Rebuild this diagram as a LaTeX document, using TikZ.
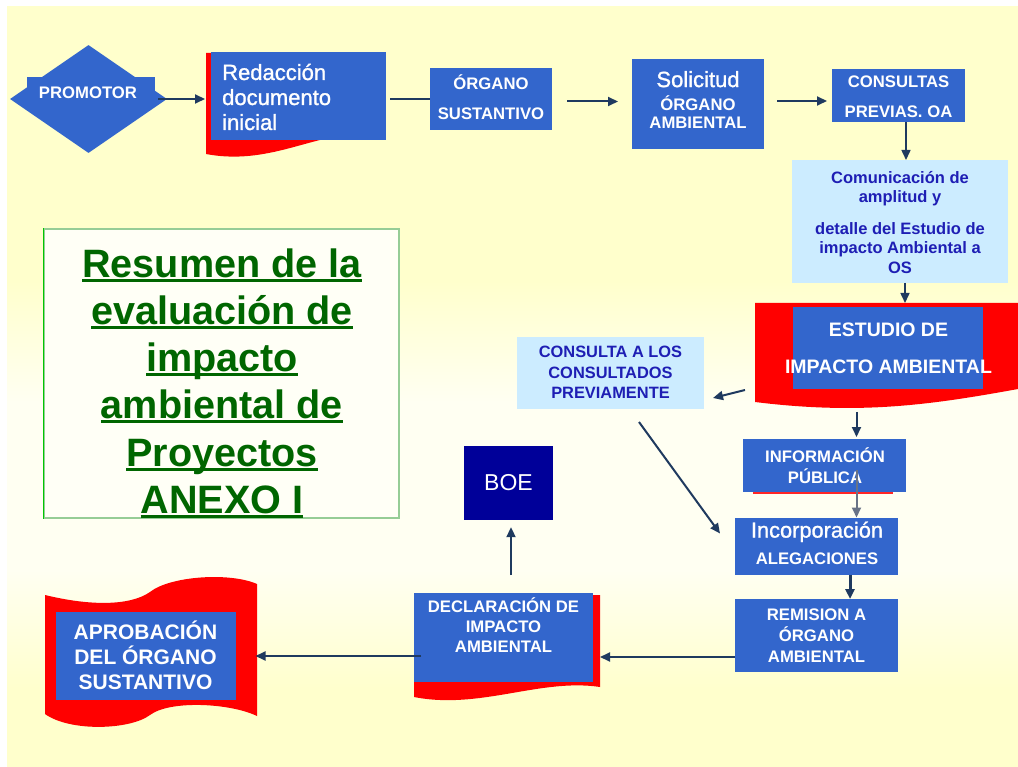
\documentclass[tikz,border=0pt]{standalone}
\usepackage{fontspec}
\setmainfont{Liberation Sans}
\newfontface\semib{Liberation Sans}[FakeBold=1.2]
\usetikzlibrary{arrows.meta,shapes.geometric,calc}
\definecolor{bgy}{RGB}{255,255,204}
\definecolor{bgw}{RGB}{255,255,242}
\definecolor{boxblue}{RGB}{51,102,204}
\definecolor{lightbox}{RGB}{204,236,255}
\definecolor{lighttext}{RGB}{30,30,180}
\definecolor{arrowc}{RGB}{31,58,95}
\definecolor{arrowg}{RGB}{105,115,135}
\definecolor{boeblue}{RGB}{0,0,153}
\definecolor{titlegreen}{RGB}{0,102,0}
\definecolor{framegreen}{RGB}{150,205,150}
\definecolor{framegreenL}{RGB}{0,200,0}
\definecolor{titlefill}{RGB}{255,255,246}
\newcommand\grnul[1]{\setbox0\hbox{#1}\rlap{\rule[-4.5pt]{\wd0}{3pt}}\box0}
\pgfdeclareverticalshading{bgshade}{100bp}{color(0bp)=(bgy); color(30bp)=(bgy); color(38bp)=(bgw); color(49bp)=(bgw); color(57bp)=(bgy); color(100bp)=(bgy)}
\begin{document}
\begin{tikzpicture}[x=1pt,y=-1pt,
  box/.style={fill=boxblue, inner sep=0pt, outer sep=0pt},
  lbox/.style={fill=lightbox, inner sep=0pt, outer sep=0pt},
  wtxt/.style={text=white, align=center, inner sep=0pt, font=\bfseries\fontsize{16.7}{21}\selectfont},
  btxt/.style={text=lighttext, align=center, inner sep=0pt, font=\bfseries\fontsize{16.5}{20.5}\selectfont},
  arr/.style={draw=arrowc, line width=2pt, -{Triangle[length=10pt,width=9pt]}},
  conn/.style={draw=arrowc, line width=2pt},
]
\useasboundingbox (0,0) rectangle (1018,767);
\shade[shading=bgshade] (7,7) rectangle (1018,767);

% title
\node[draw=framegreen, fill=titlefill, line width=1.2pt, minimum width=355pt, minimum height=289pt, inner sep=0pt] (title) at (221.5,373.5) {};
\draw[framegreenL, line width=1.2pt] (title.north west) -- (title.south west);
\node[text=titlegreen, align=center, inner sep=0pt, font=\bfseries\fontsize{39.6}{47.2}\selectfont] (titleT) at (222,383.3) {\grnul{Resumen de la}\\\grnul{evaluación de}\\\grnul{impacto}\\\grnul{ambiental de}\\\grnul{Proyectos}\\\grnul{ANEXO I}};

% promotor
\node[diamond, aspect=1.45, fill=boxblue, inner sep=0pt, minimum width=157pt, minimum height=108pt] (promo) at (88.5,99) {};
\fill[boxblue] (27,77) rectangle (155,106);
\node[wtxt] (promoT) at (88,93) {PROMOTOR};

% redaccion
\fill[red] (206,53) -- (381,53) -- (381,140) .. controls (330,120) and (280,168) .. (206,154) -- cycle;
\node[box, minimum width=175pt, minimum height=88pt] (redac) at (298.5,96) {};
\node[text=white, align=left, anchor=west, inner sep=0pt, font=\semib\fontsize{22}{25}\selectfont] (redacT) at (222,97) {Redacción\\documento\\inicial};

% organo sustantivo
\node[box, minimum width=122pt, minimum height=62pt] (organo) at (491,99) {};
\node[wtxt, font=\bfseries\fontsize{16.7}{29.5}\selectfont] (organoT) at (491,97) {ÓRGANO\\SUSTANTIVO};

% solicitud
\node[box, minimum width=132pt, minimum height=90pt] (solic) at (698,104) {};
\node[wtxt, font=\bfseries\fontsize{16.7}{18}\selectfont] (solicT) at (698,99.6) {{\semib\fontsize{22}{18}\selectfont Solicitud}\\[5pt]ÓRGANO\\AMBIENTAL};

% consultas previas
\node[box, minimum width=133pt, minimum height=53pt] (consul) at (898.5,95.5) {};
\node[wtxt, font=\bfseries\fontsize{16.7}{30}\selectfont] (consulT) at (898.5,97) {CONSULTAS\\PREVIAS. OA};

% comunicacion
\node[lbox, minimum width=216pt, minimum height=123pt] (comun) at (900,221.5) {};
\node[btxt, font=\bfseries\fontsize{16.5}{19.5}\selectfont] (comunT) at (900,222.3) {Comunicación de\\amplitud y\\[12pt]detalle del Estudio de\\impacto Ambiental a\\OS};

% estudio de impacto ambiental
\fill[red] (755,303) -- (1018,303) -- (1018,389) .. controls (930,405) and (860,415) .. (755,402) -- cycle;
\node[box, minimum width=190pt, minimum height=82pt] (eia) at (888,348) {};
\node[wtxt, font=\bfseries\fontsize{19.5}{37}\selectfont] (eiaT) at (888.5,348.5) {ESTUDIO DE\\IMPACTO AMBIENTAL};

% consulta a los consultados
\node[lbox, minimum width=187pt, minimum height=72pt] (consulta) at (610.5,373) {};
\node[btxt, font=\bfseries\fontsize{16.4}{20.5}\selectfont] (consultaT) at (610.5,372.6) {CONSULTA A LOS\\CONSULTADOS\\PREVIAMENTE};

% informacion publica
\fill[red!85!white] (753,440.5) rectangle (893,494);
\node[box, minimum width=163pt, minimum height=53pt] (info) at (824.5,465.5) {};
\node[wtxt, font=\bfseries\fontsize{16.7}{21.5}\selectfont] (infoT) at (825,465.5) {INFORMACIÓN\\PÚBLICA};

% incorporacion
\node[box, minimum width=163pt, minimum height=57pt] (incorp) at (816.5,546) {};
\node[wtxt, font=\bfseries\fontsize{16.7}{26.5}\selectfont] (incorpT) at (817,542.9) {{\semib\fontsize{21.8}{26.5}\selectfont Incorporación}\\ALEGACIONES};

% remision
\node[box, minimum width=163pt, minimum height=73pt] (remis) at (816.5,635.5) {};
\node[wtxt, font=\bfseries\fontsize{16.7}{21}\selectfont] (remisT) at (816.5,636) {REMISION A\\ÓRGANO\\AMBIENTAL};

% declaracion
\fill[red] (414,595) -- (600,595) -- (600,687) .. controls (540,678) and (480,710) .. (414,697) -- cycle;
\node[box, minimum width=179pt, minimum height=89pt] (decl) at (503.5,637.5) {};
\node[wtxt, font=\bfseries\fontsize{16.7}{20}\selectfont] (declT) at (503.5,625.3) {DECLARACIÓN DE\\IMPACTO\\AMBIENTAL};

% BOE
\node[fill=boeblue, minimum width=89pt, minimum height=74pt, inner sep=0pt, text=white, font=\fontsize{23}{23}\selectfont] (boe) at (508.5,483) {BOE};

% aprobacion
\fill[red] (45,595) .. controls (90,606) and (130,606) .. (150,592) .. controls (170,576) and (230,572) .. (257,584) -- (257,716) .. controls (230,703) and (170,700) .. (150,715) .. controls (130,730) and (70,732) .. (45,714) -- cycle;
\node[box, minimum width=180pt, minimum height=88pt] (aprob) at (146,656) {};
\node[wtxt, font=\bfseries\fontsize{21}{25}\selectfont] (aprobT) at (145.5,654.9) {APROBACIÓN\\DEL ÓRGANO\\SUSTANTIVO};

% connectors
\draw[arr] ([xshift=-9pt]promo.east) -- ([xshift=-6pt]promo.east -| redac.west);
\draw[conn] ([xshift=4pt]redac.east |- organo.west) -- (organo.west);
\draw[arr, shorten <=15pt, shorten >=14pt] ([yshift=-2.5pt]organo.east) -- ([yshift=-2.5pt]organo.east -| solic.west);
\draw[arr, shorten <=13pt, shorten >=5pt] ([yshift=3pt]solic.east) -- ([yshift=3pt]solic.east -| consul.west);
\draw[arr, line width=1.5pt] ([xshift=6pt]comun.north |- consul.south) -- ([xshift=6pt]comun.north);
\draw[arr, line width=1.5pt, shorten >=4pt] ([xshift=5pt]comun.south) -- ([xshift=5pt]comun.south |- eia.north);
\draw[arr] ([xshift=-48pt,yshift=-1pt]eia.south west) -- ([xshift=9pt,yshift=-25pt]consulta.east);
\draw[arr] ([xshift=28.5pt,yshift=-13pt]consulta.south) -- ([xshift=-15pt,yshift=12.5pt]incorp.west);
\draw[arr, shorten <=23pt, shorten >=2pt] ([xshift=32pt]info.north |- eia.south) -- ([xshift=32pt]info.north);
\draw[arr, draw=arrowg] ([xshift=32pt,yshift=22pt]info.south) -- ([xshift=32pt]info.south |- incorp.north);
\draw[arr, line width=3pt] ([xshift=33.5pt]incorp.south) -- ([xshift=33.5pt]incorp.south |- remis.north);
\draw[arr, shorten >=7pt] ([yshift=-21.5pt]remis.west) -- ([yshift=-21.5pt]remis.west -| decl.east);
\draw[arr, shorten >=19.5pt] ([xshift=7pt,yshift=-18.5pt]decl.west) -- ([yshift=-18.5pt]decl.west -| aprob.east);
\draw[arr, shorten <=18pt, shorten >=7pt] ([xshift=7.5pt]decl.north) -- ([xshift=7.5pt]decl.north |- boe.south);
\end{tikzpicture}
\end{document}
